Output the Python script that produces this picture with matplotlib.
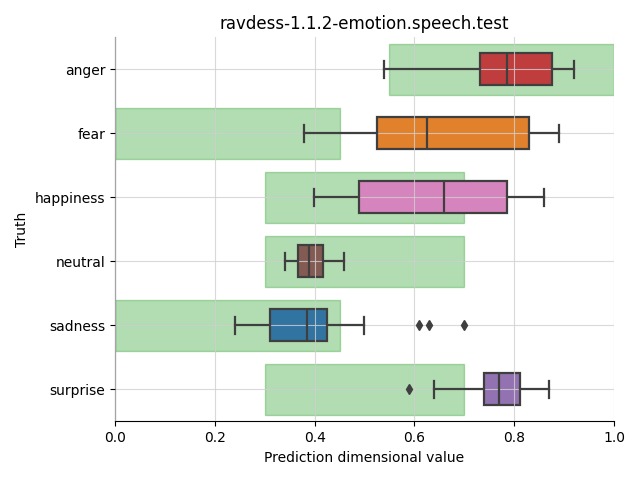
import colorsys
import matplotlib
matplotlib.use("Agg")
import matplotlib.pyplot as plt
from matplotlib.colors import to_rgb

categories = ["anger", "fear", "happiness", "neutral", "sadness", "surprise"]
whislo = [0.539, 0.379, 0.399, 0.341, 0.240, 0.639]
q1 = [0.731, 0.526, 0.488, 0.366, 0.310, 0.739]
med = [0.786, 0.625, 0.659, 0.388, 0.385, 0.770]
q3 = [0.876, 0.830, 0.786, 0.417, 0.425, 0.812]
whishi = [0.920, 0.890, 0.860, 0.459, 0.498, 0.870]
fliers = [[], [], [], [], [0.609, 0.629, 0.700], [0.589]]
range_lo = [0.55, 0.0, 0.3, 0.3, 0.0, 0.3]
range_hi = [1.0, 0.45, 0.7, 0.7, 0.45, 0.7]
box_colors = ["tab:red", "tab:orange", "tab:pink", "tab:brown", "tab:blue", "tab:purple"]


def desat(c, p=0.75):
    h, l, s = colorsys.rgb_to_hls(*to_rgb(c))
    return colorsys.hls_to_rgb(h, l, s * p)


fig = plt.figure(figsize=(6.4, 4.8), dpi=100)
ax = fig.add_axes([0.1797, 0.1219, 0.7797, 0.8000])

pos = list(range(len(categories)))
ax.barh(pos, [h - l for l, h in zip(range_lo, range_hi)], left=range_lo, height=0.8,
        color="tab:green", alpha=0.36, edgecolor="tab:green", linewidth=1, zorder=1)

stats = []
for i, c in enumerate(categories):
    stats.append(dict(whislo=whislo[i], q1=q1[i], med=med[i], q3=q3[i],
                      whishi=whishi[i], fliers=fliers[i], label=c))
lc = "#3f3f3f"
bp = ax.bxp(stats, positions=pos, vert=False, widths=0.5, capwidths=0.27,
            patch_artist=True, showfliers=True,
            boxprops=dict(edgecolor=lc, linewidth=1.6),
            whiskerprops=dict(color=lc, linewidth=1.6),
            capprops=dict(color=lc, linewidth=1.6),
            medianprops=dict(color=lc, linewidth=1.6),
            flierprops=dict(marker="d", markerfacecolor=lc, markeredgecolor=lc, markersize=5),
            zorder=2)
for patch, col in zip(bp["boxes"], box_colors):
    patch.set_facecolor(desat(col))
for key in ["whiskers", "caps", "medians", "fliers"]:
    for ln in bp[key]:
        ln.set_zorder(3)

ax.set_xlim(0, 1)
ax.set_ylim(5.5, -0.5)
ax.set_yticks(pos)
ax.set_yticklabels(categories)
ax.grid(True, color="#d0d0d0", linewidth=0.8, alpha=0.8)
ax.set_axisbelow(False)
for s in ["top", "right"]:
    ax.spines[s].set_visible(False)
ax.set_xlabel("Prediction dimensional value")
ax.set_ylabel("Truth")
ax.set_title("ravdess-1.1.2-emotion.speech.test")

fig.savefig("out.png", dpi=100)
